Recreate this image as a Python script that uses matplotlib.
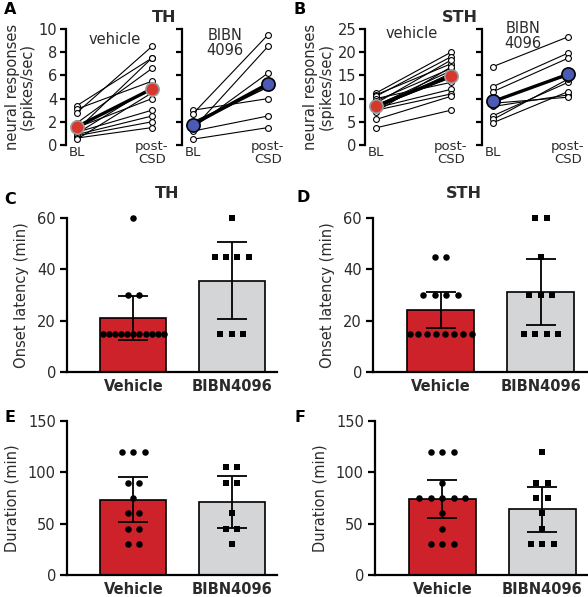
import matplotlib
matplotlib.use("Agg")
import matplotlib.pyplot as plt
import numpy as np

plt.rcParams['font.family'] = ['DejaVu Sans']

W, H = 588, 597

# ---------------- data ----------------
# Panel A (TH) neural responses, spikes/sec
th_veh_bl   = [3.4, 3.1, 2.8, 1.9, 1.5, 1.3, 1.1, 1.0, 0.9, 0.8, 0.6, 0.5]
th_veh_post = [7.5, 5.5, 8.5, 6.6, 4.0, 7.5, 3.0, 5.0, 2.5, 2.0, 1.5, 4.5]
th_bib_bl   = [3.0, 2.7, 1.4, 2.0, 1.8, 1.2, 0.5, 1.5]
th_bib_post = [4.0, 9.5, 8.5, 5.0, 5.0, 2.5, 1.5, 6.2]
# Panel B (STH)
sth_veh_bl   = [11.2, 10.8, 10.5, 10.0, 9.5, 9.0, 8.5, 8.2, 8.0, 7.8, 7.5, 7.2, 5.5, 3.7]
sth_veh_post = [20.0, 17.5, 19.0, 13.5, 16.5, 18.3, 16.0, 14.5, 12.0, 15.5, 11.0, 16.8, 10.5, 7.5]
sth_bib_bl   = [16.9, 12.6, 11.5, 9.5, 8.3, 6.3, 5.5, 4.8, 9.0]
sth_bib_post = [23.3, 19.8, 18.7, 15.0, 10.8, 13.5, 14.2, 11.5, 10.3]

groups = ["Vehicle", "BIBN4096"]
# Panel C: TH onset latency (min)
c_means = [21.0, 35.5]
c_sd = [8.5, 15.0]
c_veh = [60, 30, 30, 15, 15, 15, 15, 15, 15, 15, 15, 15, 15, 15]
c_bib = [60, 45, 45, 45, 45, 15, 15, 15]
# Panel D: STH onset latency (min)
d_means = [24.0, 31.3]
d_sd = [7.0, 12.9]
d_veh = [45, 45, 30, 30, 30, 30, 15, 15, 15, 15, 15, 15, 15, 15]
d_bib = [60, 60, 45, 30, 30, 30, 15, 15, 15, 15]
# Panel E: TH duration (min)
e_means = [73.5, 71.0]
e_sd = [22.0, 25.0]
e_veh = [120, 120, 120, 90, 90, 75, 60, 60, 45, 45, 30, 30]
e_bib = [105, 105, 90, 90, 60, 45, 45, 30]
# Panel F: STH duration (min)
f_means = [74.0, 64.0]
f_sd = [18.5, 22.0]
f_veh = [120, 120, 120, 90, 75, 75, 75, 75, 75, 60, 45, 30, 30, 30]
f_bib = [120, 90, 90, 75, 75, 60, 45, 30, 30, 30]

RED = '#CD2229'
GREY = '#D3D5D7'
BLUE = '#4A5AB5'
TXT = '#2b2b2b'

fig = plt.figure(figsize=(W / 100, H / 100), dpi=100)


def add_ax(l, t, r, b):
    return fig.add_axes([l / W, 1 - b / H, (r - l) / W, (b - t) / H])


def ftext(x, y, s, **kw):
    fig.text(x / W, 1 - y / H, s, **kw)


def pair_panel(ax, bl, post, ymax, step, color, edge, labels=True):
    for a, b in zip(bl, post):
        ax.plot([0, 1], [a, b], color='black', lw=0.8, zorder=2,
                marker='o', ms=4.2, mfc='white', mec='black', mew=0.8,
                clip_on=False)
    mb, mp = np.mean(bl), np.mean(post)
    ax.plot([0, 1], [mb, mp], color='black', lw=2.4, zorder=3)
    ax.plot([0, 1], [mb, mp], ls='none', marker='o', ms=9.5, mfc=color,
            mec=edge, mew=1.2, zorder=4)
    ax.set_xlim(-0.15, 1.1)
    ax.set_ylim(0, ymax)
    for s in ['top', 'right', 'bottom']:
        ax.spines[s].set_visible(False)
    ax.spines['left'].set_linewidth(1.6)
    ax.spines['left'].set_bounds(0, ymax)
    ax.set_xticks([])
    ax.set_yticks(np.arange(0, ymax + 0.01, step))
    ax.tick_params(axis='y', length=4, width=1.6, direction='out',
                   labelsize=10.5, labelcolor=TXT, pad=2)
    if not labels:
        ax.set_yticklabels([])
    ax.text(0, -0.065, "BL", transform=ax.get_xaxis_transform(),
            ha='center', va='center', fontsize=9.5, color=TXT, clip_on=False)
    ax.text(1, -0.07, "post-\nCSD", transform=ax.get_xaxis_transform(),
            ha='center', va='center', fontsize=9.5, color=TXT,
            linespacing=1.0, clip_on=False)


def swarm(values, center):
    vals = np.array(values, dtype=float)
    xs = np.zeros(len(vals))
    for v in np.unique(vals):
        idx = np.where(vals == v)[0]
        n = len(idx)
        sp = 0.115 if n < 2 else min(0.115, 0.62 / (n - 1))
        xs[idx] = center + (np.arange(n) - (n - 1) / 2) * sp
    return xs, vals


def bar_panel(ax, means, sd, veh, bib, ymax, step, ylabel):
    ax.bar([0, 1], means, width=0.67, color=[RED, GREY], edgecolor='black',
           linewidth=1.2, zorder=1)
    ax.errorbar([0, 1], means, yerr=sd, fmt='none', ecolor='black',
                elinewidth=1.3, capsize=11, capthick=1.3, zorder=3)
    x, y = swarm(veh, 0)
    ax.scatter(x, y, s=22, marker='o', color='black', zorder=4, linewidths=0,
               clip_on=False)
    x, y = swarm(bib, 1)
    ax.scatter(x, y, s=24, marker='s', color='black', zorder=4, linewidths=0,
               clip_on=False)
    ax.set_xlim(-0.675, 1.46)
    ax.set_ylim(0, ymax)
    for s in ['top', 'right']:
        ax.spines[s].set_visible(False)
    for s in ['left', 'bottom']:
        ax.spines[s].set_linewidth(1.6)
    ax.set_xticks([0, 1])
    ax.set_xticklabels(groups, fontweight='bold', fontsize=10.5, color=TXT)
    ax.tick_params(axis='x', length=0, pad=5)
    ax.set_yticks(np.arange(0, ymax + 0.01, step))
    ax.tick_params(axis='y', length=5, width=1.6, labelsize=10.5,
                   labelcolor=TXT, pad=3)
    ax.set_ylabel(ylabel, fontsize=10.5, color=TXT, labelpad=6)


# ---------- Panel A ----------
axA1 = add_ax(65.75, 29, 159.5, 145)
pair_panel(axA1, th_veh_bl, th_veh_post, 10, 2, '#D8372E', '#9a9a9a')
axA1.set_ylabel("neural responses\n(spikes/sec)", fontsize=10.5, color=TXT,
                labelpad=3, linespacing=1.0)
axA2 = add_ax(181.75, 29, 275.5, 145)
pair_panel(axA2, th_bib_bl, th_bib_post, 10, 2, BLUE, 'black', labels=False)
ftext(115, 40, "vehicle", ha='center', va='center', fontsize=10.5, color=TXT)
ftext(225, 43, "BIBN\n4096", ha='center', va='center', fontsize=10.5,
      color=TXT, linespacing=1.05)
ftext(164, 17, "TH", ha='center', va='center', fontsize=11.5,
      fontweight='bold', color=TXT)
ftext(10, 9, "A", ha='center', va='center', fontsize=11.5, fontweight='bold')

# ---------- Panel B ----------
axB1 = add_ax(364.75, 29, 458.5, 145)
pair_panel(axB1, sth_veh_bl, sth_veh_post, 25, 5, '#D8372E', '#9a9a9a')
axB1.set_ylabel("neural responses\n(spikes/sec)", fontsize=10.5, color=TXT,
                labelpad=3, linespacing=1.0)
axB2 = add_ax(481.75, 29, 575.5, 145)
pair_panel(axB2, sth_bib_bl, sth_bib_post, 25, 5, BLUE, 'black', labels=False)
ftext(412, 33, "vehicle", ha='center', va='center', fontsize=10.5, color=TXT)
ftext(523, 36, "BIBN\n4096", ha='center', va='center', fontsize=10.5,
      color=TXT, linespacing=1.05)
ftext(460, 17, "STH", ha='center', va='center', fontsize=11.5,
      fontweight='bold', color=TXT)
ftext(300, 9, "B", ha='center', va='center', fontsize=11.5, fontweight='bold')

# ---------- Panels C-F ----------
axC = add_ax(67, 218, 277, 372)
bar_panel(axC, c_means, c_sd, c_veh, c_bib, 60, 20, "Onset latency (min)")
ftext(167, 193, "TH", ha='center', va='center', fontsize=11.5,
      fontweight='bold', color=TXT)
ftext(10, 200, "C", ha='center', va='center', fontsize=11.5, fontweight='bold')

axD = add_ax(373, 218, 587, 372)
bar_panel(axD, d_means, d_sd, d_veh, d_bib, 60, 20, "Onset latency (min)")
ftext(464, 193, "STH", ha='center', va='center', fontsize=11.5,
      fontweight='bold', color=TXT)
ftext(303, 197, "D", ha='center', va='center', fontsize=11.5, fontweight='bold')

axE = add_ax(67, 421, 277, 575)
bar_panel(axE, e_means, e_sd, e_veh, e_bib, 150, 50, "Duration (min)")
ftext(10, 417, "E", ha='center', va='center', fontsize=11.5, fontweight='bold')

axF = add_ax(375, 421, 588, 575)
bar_panel(axF, f_means, f_sd, f_veh, f_bib, 150, 50, "Duration (min)")
ftext(300, 417, "F", ha='center', va='center', fontsize=11.5, fontweight='bold')

fig.savefig("out.png", dpi=100)
